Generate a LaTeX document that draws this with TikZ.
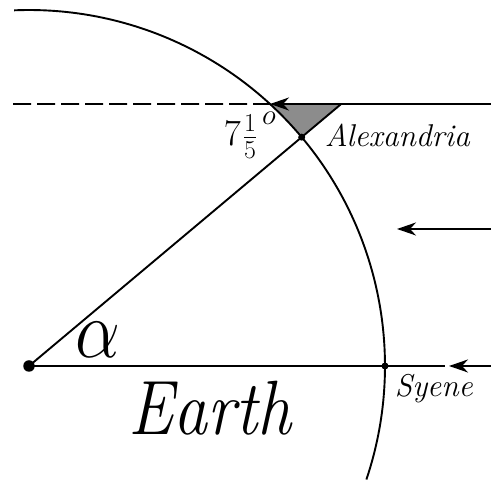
\RequirePackage{fix-cm}
\documentclass[tikz,border=0pt]{standalone}
\usepackage{graphicx}
\usetikzlibrary{arrows.meta,calc}
\begin{document}
\begin{tikzpicture}[x=1pt,y=1pt,line width=1.9pt,
  ray/.style={-{Stealth[length=19pt,width=13pt,inset=6pt]}},
  dot/.style={circle,fill=black,inner sep=0pt,minimum size=#1},
  lbl/.style={inner sep=0pt,anchor=base west},
  place/.style={lbl,font=\itshape\fontsize{31.5}{38}\selectfont}]
\useasboundingbox (0,0) rectangle (491,481);
\coordinate (O) at (29,115);
\coordinate (A) at ($(O)+(40:356)$);
\coordinate (S) at (385,115);
\coordinate (P) at ($(O)+(47.39:356)$);
\coordinate (Q) at (341.2,377);
\coordinate (L) at (13,377);
\coordinate (R1) at (491,377);
\coordinate (R2a) at (491,252);
\coordinate (R2b) at (397,252);
\coordinate (R3a) at (491,115);
\coordinate (R3b) at (449,115);
\coordinate (E3) at (445,115);
% shaded angle
\fill[black!45] (A) arc[start angle=40,end angle=47.39,radius=356] -- (Q) -- cycle;
% Earth outline
\draw ($(O)+(92.4:356)$) arc[start angle=92.4,end angle=-18.6,radius=356];
% rays
\draw[dash pattern=on 18pt off 6pt] (L) -- (P);
\draw[ray] (R1) -- (P);
\draw[ray] (R2a) -- (R2b);
\draw[ray] (R3a) -- (R3b);
% radii
\draw (O) -- (Q);
\draw (O) -- (E3);
% points
\node[dot=11.5pt] (o) at (O) {};
\node[dot=7pt] (a) at (A) {};
\node[dot=7pt] (s) at (S) {};
% labels
\node[lbl] (t7) at (223,335) {\fontsize{37}{40}\selectfont $7\kern2pt\frac{1}{5}$\kern5pt\raisebox{21pt}{\fontsize{29}{34}\selectfont$o$}};
\node[place] (alex) at (324,334) {Alexandria};
\node[place] (sy) at (394,84) {Syene};
\node[lbl] (earth) at (128,46) {\scalebox{0.88}[1]{\fontsize{77}{90}\selectfont\itshape Earth}};
\node[lbl] (alpha) at (75,123) {\scalebox{0.87}[1]{\fontsize{82}{90}\selectfont$\alpha$}};
\end{tikzpicture}
\end{document}
